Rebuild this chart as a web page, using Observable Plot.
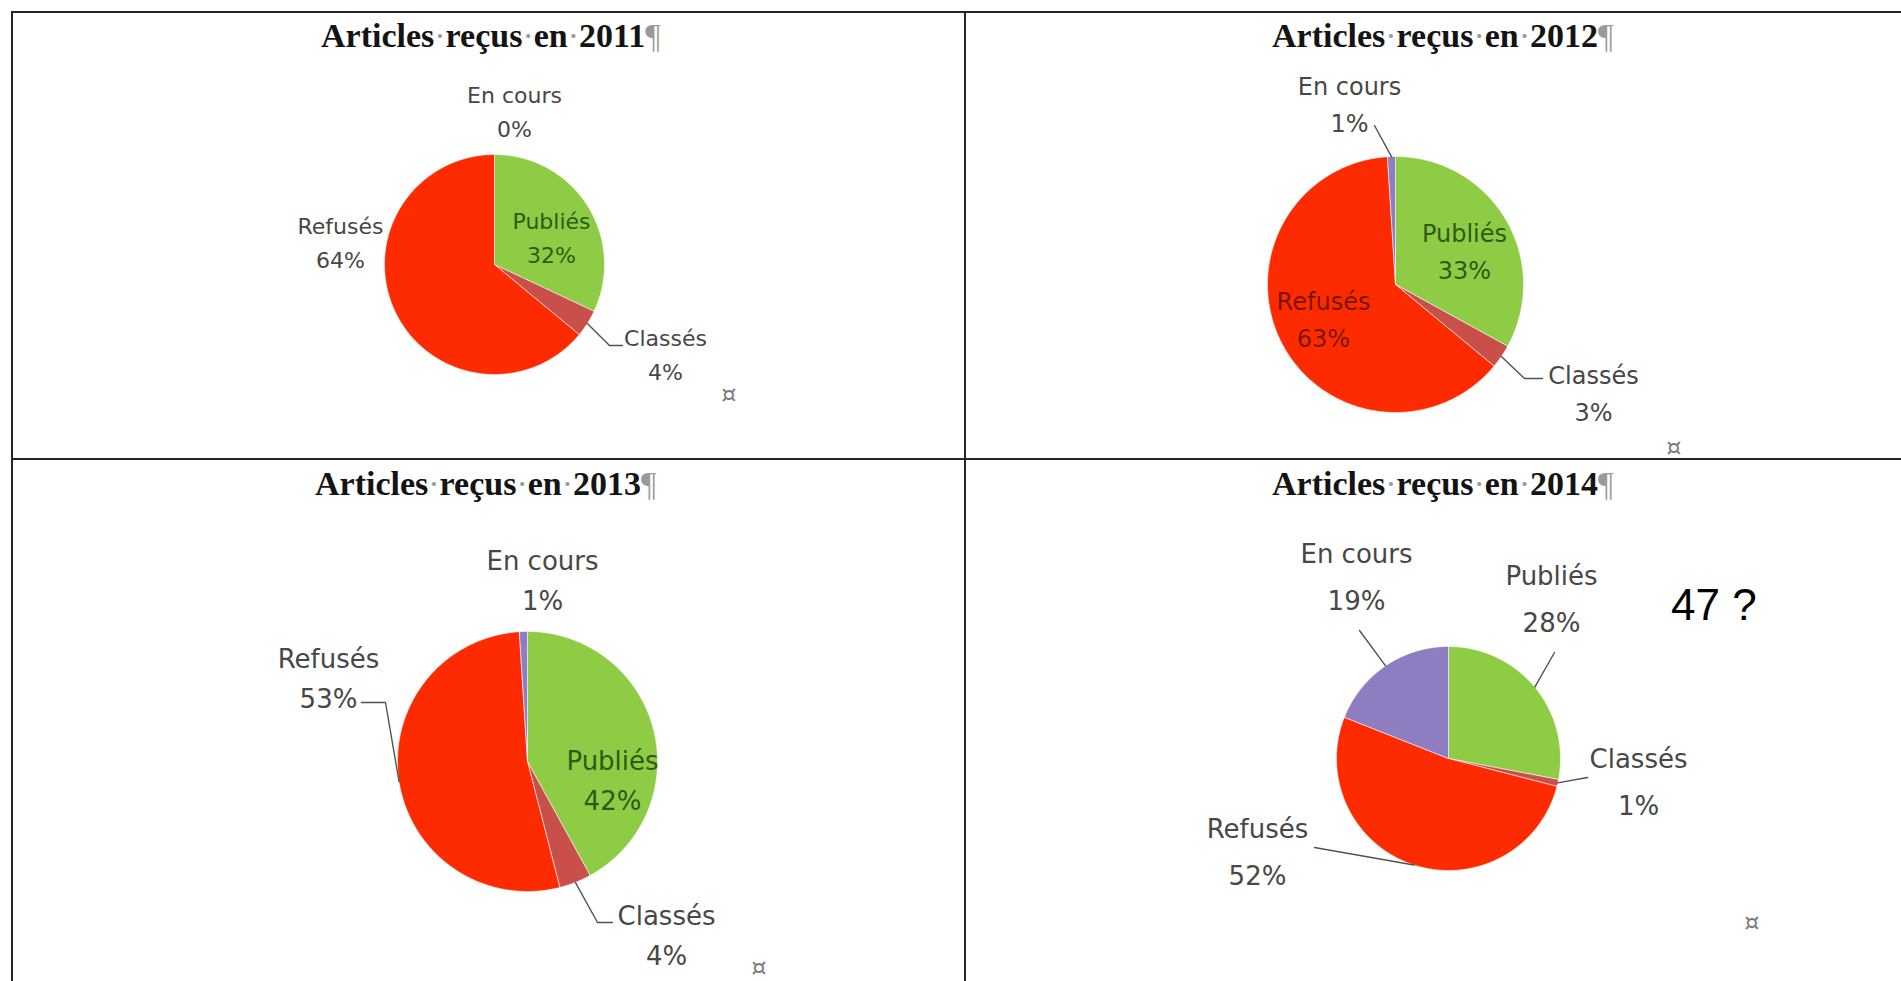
<!DOCTYPE html>
<html><head><meta charset="utf-8">
<script src="https://cdn.jsdelivr.net/npm/d3@7"></script>
<script src="https://cdn.jsdelivr.net/npm/@observablehq/plot@0.6"></script>
<style>
html,body{margin:0;padding:0;background:#fff;}
#page{position:relative;width:1901px;height:981px;overflow:hidden;background:#fff;}
.rule{position:absolute;background:#262626;}
.title{position:absolute;font-family:"Liberation Serif","Times New Roman",serif;font-weight:bold;font-size:34px;line-height:34px;color:#141414;white-space:nowrap;}
.title .sp,.title .pil{color:#9a9a9a;font-weight:normal;}
.note{position:absolute;white-space:nowrap;}
.chart{position:absolute;}
</style></head><body><div id="page"></div>
<script>
// ---- data ----
const categories = ["Publiés", "Classés", "Refusés", "En cours"];
const years = [2011, 2012, 2013, 2014];
const pct2011 = [32, 4, 64, 0];
const pct2012 = [33, 3, 63, 1];
const pct2013 = [42, 4, 53, 1];
const pct2014 = [28, 1, 52, 19];
const seriesByYear = [pct2011, pct2012, pct2013, pct2014];
const titleWords = ["Articles", "reçus", "en"];
const cellMarker = "¤";
const sideNote = "47 ?";

// ---- styles ----
const sliceColors = ["#8fcc45", "#c9504a", "#ff2b00", "#8e7dc0"];
const outsideInk = "#474747";
const leaderInk = "#4a5656";

// ---- layout (pixels; label/leader offsets relative to the pie centre) ----
const layout = [
  {cell: [13, 12, 952, 446], center: [494, 264], r: 110, font: 22, lh: 1.55, title: [321, 18.5], marker: [729, 395],
   labels: {"Publiés": [57, -29, "#2f5a12"], "Classés": [171, 88], "Refusés": [-154, -24], "En cours": [20, -155]},
   leaders: {"Classés": [[115, 81], [128, 81]]}},
  {cell: [966, 12, 935, 446], center: [1395, 284], r: 128, font: 24, lh: 1.54, title: [1272, 18.5], marker: [1674, 448],
   labels: {"Publiés": [69, -36, "#2f5a12"], "Classés": [198, 106], "Refusés": [-72, 32, "#7c1500"], "En cours": [-46, -183]},
   leaders: {"En cours": [[-21, -159]], "Classés": [[129, 94], [147, 94]]}},
  {cell: [13, 460, 952, 521], center: [527, 761], r: 130, font: 26, lh: 1.54, title: [315, 466.5], marker: [759, 968],
   labels: {"Publiés": [85, 16, "#2f5a12"], "Classés": [139, 171], "Refusés": [-199, -86], "En cours": [15, -184]},
   leaders: {"Refusés": [[-142, -59], [-166, -59]], "Classés": [[70, 161], [85, 161]]}},
  {cell: [966, 460, 935, 521], center: [1448, 758], r: 112, font: 26, lh: 1.8, title: [1272, 466.5], marker: [1752, 923],
   labels: {"Publiés": [103, -165], "Classés": [190, 18], "Refusés": [-191, 88], "En cours": [-92, -187]},
   leaders: {"En cours": [[-89, -128]], "Publiés": [[106, -106]], "Classés": [[139, 19]], "Refusés": [[-134, 89]]}}
];
const rules = [[12, 11, 1889, 2], [12, 458, 1889, 2], [11, 11, 2, 970], [964, 11, 2, 970]];
const notePos = [1671, 582.7];

const page = document.getElementById("page");

for (const [l, t, w, h] of rules) {
  const d = document.createElement("div");
  d.className = "rule";
  Object.assign(d.style, {left: l + "px", top: t + "px", width: w + "px", height: h + "px"});
  page.appendChild(d);
}

years.forEach((year, yi) => {
  const L = layout[yi];
  const values = seriesByYear[yi];
  const [cl, ct, cw, ch] = L.cell;
  const [cx, cy] = L.center;
  const r = L.r;

  // title
  const t = document.createElement("div");
  t.className = "title";
  t.style.left = L.title[0] + "px";
  t.style.top = L.title[1] + "px";
  t.innerHTML = titleWords.map(w => w + '<span class="sp">·</span>').join("") + year + '<span class="pil">¶</span>';
  page.appendChild(t);

  // slices from d3.pie angles (unit radius, clockwise from 12 o'clock)
  const arcs = d3.pie().sort(null).value(d => d)(values);
  const slicePts = [];
  arcs.forEach((a, i) => {
    const span = a.endAngle - a.startAngle;
    if (span <= 0) return;
    const n = Math.max(2, Math.ceil(span / 0.01));
    slicePts.push({cat: categories[i], x: 0, y: 0});
    for (let k = 0; k <= n; k++) {
      const th = a.startAngle + span * k / n;
      slicePts.push({cat: categories[i], x: Math.sin(th), y: -Math.cos(th)});
    }
    slicePts.push({cat: categories[i], x: 0, y: 0});
  });

  // leaders: start on the arc at the slice mid-angle, then to the label side
  const leaderPts = [];
  for (const [cat, pts] of Object.entries(L.leaders)) {
    const a = arcs[categories.indexOf(cat)];
    const mid = (a.startAngle + a.endAngle) / 2;
    leaderPts.push({k: cat, x: Math.sin(mid), y: -Math.cos(mid)});
    for (const [dx, dy] of pts) leaderPts.push({k: cat, x: dx / r, y: dy / r});
  }

  const textMarks = categories.map((cat, i) => {
    const [dx, dy, ink] = L.labels[cat];
    return Plot.text([{x: dx / r, y: dy / r, t: `${cat}\n${values[i]}%`}], {
      x: "x", y: "y", text: "t",
      fill: ink || outsideInk,
      fontSize: L.font, fontFamily: "DejaVu Sans, sans-serif",
      lineHeight: L.lh, lineAnchor: "middle", textAnchor: "middle"
    });
  });

  const svg = Plot.plot({
    width: cw, height: ch,
    margin: 0,
    x: {axis: null, domain: [(cl - cx) / r, (cl + cw - cx) / r], range: [0, cw]},
    y: {axis: null, domain: [(ct - cy) / r, (ct + ch - cy) / r], range: [0, ch]},
    color: {domain: categories, range: sliceColors},
    style: {background: "transparent", overflow: "visible"},
    marks: [
      Plot.line(slicePts, {x: "x", y: "y", z: "cat", fill: "cat", stroke: "#ffffff", strokeWidth: 0.8, strokeOpacity: 0.7}),
      Plot.line(leaderPts, {x: "x", y: "y", z: "k", stroke: leaderInk, strokeWidth: 1.4}),
      ...textMarks
    ]
  });
  const wrap = document.createElement("div");
  wrap.className = "chart";
  wrap.style.left = cl + "px";
  wrap.style.top = ct + "px";
  wrap.appendChild(svg);
  page.appendChild(wrap);

  const m = document.createElement("div");
  m.className = "note";
  Object.assign(m.style, {left: L.marker[0] + "px", top: L.marker[1] + "px", transform: "translate(-50%,-50%)",
    font: "24px/24px 'DejaVu Sans', sans-serif", color: "#7a7a7a"});
  m.textContent = cellMarker;
  page.appendChild(m);
});

const note = document.createElement("div");
note.className = "note";
Object.assign(note.style, {left: notePos[0] + "px", top: notePos[1] + "px",
  font: "44px/44px 'Liberation Sans', Arial, sans-serif", color: "#000"});
note.textContent = sideNote;
page.appendChild(note);
</script>
</body></html>
